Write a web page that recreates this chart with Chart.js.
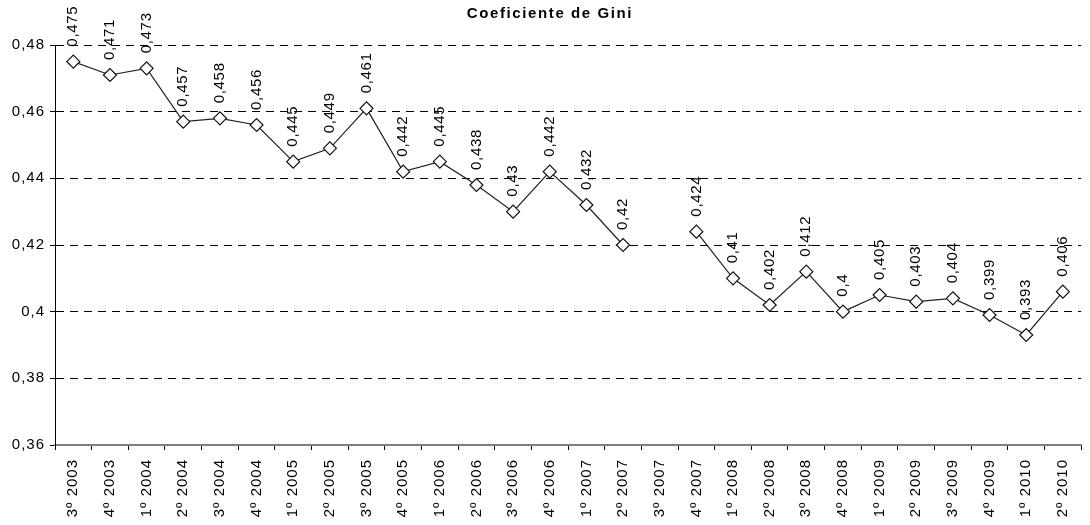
<!DOCTYPE html>
<html>
<head>
<meta charset="utf-8">
<script src="https://cdn.jsdelivr.net/npm/chart.js@4/dist/chart.umd.min.js"></script>
<style>
html,body{margin:0;padding:0;background:#fff;}
#wrap{width:1090px;height:525px;}
</style>
</head>
<body>
<div id="wrap"><canvas id="c" width="1090" height="525"></canvas></div>
<script>
const categories = ["3º 2003","4º 2003","1º 2004","2º 2004","3º 2004","4º 2004","1º 2005","2º 2005","3º 2005","4º 2005","1º 2006","2º 2006","3º 2006","4º 2006","1º 2007","2º 2007","3º 2007","4º 2007","1º 2008","2º 2008","3º 2008","4º 2008","1º 2009","2º 2009","3º 2009","4º 2009","1º 2010","2º 2010"];
const giniValues = [0.475,0.471,0.473,0.457,0.458,0.456,0.445,0.449,0.461,0.442,0.445,0.438,0.43,0.442,0.432,0.42,null,0.424,0.41,0.402,0.412,0.4,0.405,0.403,0.404,0.399,0.393,0.406];
const yTicks = [0.36,0.38,0.40,0.42,0.44,0.46,0.48];
const chartTitle = "Coeficiente de Gini";

const fmt = v => String(Math.round(v*1000)/1000).replace('.', ',');
const FONT = "'Liberation Sans', Arial, sans-serif";
const SP = '1px';

const spacingPlugin = {
  id: 'spacing',
  beforeInit(chart) { chart.ctx.letterSpacing = SP; },
  beforeUpdate(chart) { chart.ctx.letterSpacing = SP; },
  beforeLayout(chart) { chart.ctx.letterSpacing = SP; },
  beforeDraw(chart) { chart.ctx.letterSpacing = SP; }
};

const labelPlugin = {
  id: 'rotLabels',
  afterDatasetsDraw(chart) {
    const ctx = chart.ctx;
    const meta = chart.getDatasetMeta(0);
    ctx.save();
    ctx.letterSpacing = '0.7px';
    ctx.font = "15px " + FONT;
    ctx.fillStyle = "#000";
    ctx.textAlign = "left";
    ctx.textBaseline = "middle";
    meta.data.forEach((pt, i) => {
      const v = giniValues[i];
      if (v === null) return;
      ctx.save();
      ctx.translate(pt.x, pt.y - 15);
      ctx.rotate(-Math.PI/2);
      ctx.fillText(fmt(v), 0, 0);
      ctx.restore();
    });
    ctx.restore();
  },
  afterDraw(chart) {
    const ctx = chart.ctx;
    ctx.save();
    ctx.letterSpacing = '1.6px';
    ctx.font = "bold 15px " + FONT;
    ctx.fillStyle = "#000";
    ctx.textAlign = "center";
    ctx.textBaseline = "middle";
    ctx.fillText(chartTitle, 550, 14);
    ctx.restore();
  }
};

new Chart(document.getElementById('c'), {
  type: 'line',
  data: {
    labels: categories,
    datasets: [{
      data: giniValues,
      borderColor: '#222',
      borderWidth: 1.2,
      pointStyle: 'rectRot',
      pointRadius: 6.5,
      pointBackgroundColor: '#fff',
      pointBorderColor: '#111',
      pointBorderWidth: 1.2,
      spanGaps: false,
      tension: 0
    }]
  },
  options: {
    responsive: false,
    animation: false,
    devicePixelRatio: 1,
    layout: { padding: { left: 0, right: 0, top: 45, bottom: 0 } },
    plugins: {
      legend: { display: false },
      tooltip: { enabled: false },
      title: { display: false }
    },
    scales: {
      x: {
        offset: true,
        grid: { offset: true, drawOnChartArea: false, drawTicks: true, tickLength: 5, color: '#000' },
        border: { color: '#808080', width: 2 },
        ticks: {
          color: '#000',
          font: { family: FONT, size: 15 },
          minRotation: 90, maxRotation: 90,
          autoSkip: false,
          padding: 9
        },
        afterFit(s) { s.height = 80; }
      },
      y: {
        min: 0.36, max: 0.48,
        afterBuildTicks(s) { s.ticks = yTicks.map(v => ({ value: v })); },
        grid: { color: '#000', lineWidth: 1, tickBorderDash: [], tickLength: 5, drawTicks: true },
        border: { color: '#000', width: 1, dash: [8,6] },
        ticks: {
          color: '#000',
          font: { family: FONT, size: 15 },
          padding: 5,
          callback: v => fmt(v)
        },
        afterFit(s) { s.width = 55; }
      }
    }
  },
  plugins: [spacingPlugin, labelPlugin]
});
</script>
</body>
</html>
